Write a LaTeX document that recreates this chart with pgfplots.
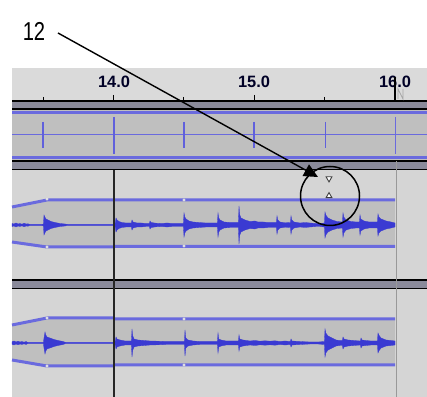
\documentclass[border=0pt]{standalone}
\usepackage{pgfplots}
\pgfplotsset{compat=1.18}
\usepackage{pgfplotstable}
\usepgfplotslibrary{fillbetween}
\usetikzlibrary{arrows.meta}
\usepackage{fontspec}
\setmainfont{Liberation Sans}
\definecolor{bgl}{HTML}{D5D5D5}
\definecolor{bgin}{HTML}{BFBFBF}
\definecolor{ruler}{HTML}{DADADA}
\definecolor{sep}{HTML}{8A8A9A}
\definecolor{envb}{HTML}{6A6ADE}
\definecolor{wave}{HTML}{3A3AD2}

% waveform amplitudes (pixels), track 2 (centre y=225)
\pgfplotstableread{
x a
12 1.5
14 1
16 2
18 1
20 1.5
22 0.8
24 1.8
26 1
28 1.2
30 0.4
42 0.4
43.4 1
44 10
44.8 8
46 6
48 5
51 3.5
55 2.5
60 1.5
65 1
68 0.4
113 0.4
}\wavetwoL
\pgfplotstableread{
x a
115 0.5
116 7
117 5
119 3.5
122 2.5
126 2
129 2
131.4 2
132 5
133 3
137 2
141 2
146 1.5
149.4 1.5
150 4
151 2.5
156 1.8
162 1.5
167 2
172 1.5
178 1.5
183.4 1.5
184 12
184.8 8
186 6
189 4
193 3
199 2.5
206 2
212 2
217.4 2
218 12
218.8 7
220 5
224 3
230 2.5
235 2.5
238.4 2.5
239 19
239.8 10
241 7
245 5
250 3.5
255 4
258 3
263 3
268 2.5
272 2.5
276.4 2.5
277 9
277.8 5
280 3
285 2.2
290.4 2.5
291 9
291.8 5
294 3
300 2
305 2.5
310 2
316 1.5
320 1.5
324.4 2
325 13
325.8 10
328 7
332 5
337 3.5
342.4 3
343 12
343.8 8
346 5
351 3.5
356 3
359.4 3
360 10
360.8 6
364 4
369 3
374 3
377.4 3
378 11
378.8 8
381 6
386 4
391 3
395 2
}\wavetwoR
% track 3 (centre y=343)
\pgfplotstableread{
x a
12 1.2
14 2
16 1
18 1.8
20 1
22 1.5
24 0.8
26 1.5
28 0.4
43.4 0.4
44 5
45 11
45.8 8
47 6
50 5
54 3.5
58 2.5
63 1.5
66 0.4
113 0.4
}\wavethreeL
\pgfplotstableread{
x a
115 0.5
116 6
117 4
120 3
125 2
131.4 2
132 14
132.8 7
134 4
138 3
144 2.5
150 2
158 1.8
166 1.5
174 1.5
180 1.5
184.4 1.5
185 13
185.8 5
188 3
193 2
200 1.5
208 1.5
217.4 1.5
218 10
218.8 4
221 3
226 2
232 2
238.4 2
239 8
239.8 4
243 3
250 2
255 2.5
260 1.8
265 2.2
270 1.8
275 2.2
280 1.5
285 2
290.4 1.5
291 4
292 2
300 1.5
310 1
318 1
324.4 1.5
325 14
325.8 10
328 7
332 5
336 3
340 2.5
342.4 2.5
343 6
344 4
348 3
354 2.5
360.4 2
361 5
362 3
366 2.5
371 2
377.4 2
378 10
378.8 8
381 5
386 3
391 2.5
395 2
}\wavethreeR

\newcommand{\wave}[2]{% table, centre
  \addplot[draw=none, name path=u, forget plot] table[x=x, y expr=#2-\thisrow{a}] {#1};
  \addplot[draw=none, name path=l, forget plot] table[x=x, y expr=#2+\thisrow{a}] {#1};
  \addplot[fill=wave, draw=wave, line width=0.3bp] fill between[of=u and l];
}

\begin{document}
\begin{tikzpicture}
\begin{axis}[
  width=427bp, height=397bp, scale only axis,
  xmin=0, xmax=427, ymin=0, ymax=397, y dir=reverse,
  hide axis, clip=true, unbounded coords=jump,
  fill between/on layer=main,
]
% backgrounds
\addplot[fill=ruler, draw=none] coordinates {(12,68) (427,68) (427,101) (12,101)} -- cycle;
\addplot[fill=sep, draw=none] coordinates {(12,101) (427,101) (427,110) (12,110)} -- cycle;
\addplot[fill=bgin, draw=none] coordinates {(12,110) (427,110) (427,161) (12,161)} -- cycle;
\addplot[fill=sep, draw=none] coordinates {(12,161) (427,161) (427,170) (12,170)} -- cycle;
\addplot[fill=bgl, draw=none] coordinates {(12,170) (427,170) (427,280) (12,280)} -- cycle;
\addplot[fill=sep, draw=none] coordinates {(12,280) (427,280) (427,289) (12,289)} -- cycle;
\addplot[fill=bgl, draw=none] coordinates {(12,289) (427,289) (427,397) (12,397)} -- cycle;
% black separator lines
\addplot[black, line width=1.2bp] coordinates {(12,101) (427,101)};
\addplot[black, line width=2bp] coordinates {(12,109.5) (427,109.5)};
\addplot[black, line width=2bp] coordinates {(12,161.5) (427,161.5)};
\addplot[black, line width=1.5bp] coordinates {(12,169.5) (427,169.5)};
\addplot[black, line width=1.5bp] coordinates {(12,280) (427,280)};
\addplot[black, line width=1.5bp] coordinates {(12,288.5) (427,288.5)};
% ruler ticks
\addplot[black, line width=1bp] coordinates {(113,95) (113,100) (nan,nan) (254,95) (254,100) (nan,nan) (395,95) (395,100)};
\addplot[black, line width=0.8bp] coordinates {(43,97) (43,100) (nan,nan) (183,97) (183,100) (nan,nan) (324,97) (324,100)};
\node[font=\fontsize{16.5}{16}\selectfont\bfseries, text=black!85!blue] at (axis cs:114,82) {14.0};
\node[font=\fontsize{16.5}{16}\selectfont\bfseries, text=black!85!blue] at (axis cs:254,82) {15.0};
\node[font=\fontsize{16.5}{16}\selectfont\bfseries, text=black!85!blue] at (axis cs:395,82) {16.0};
\addplot[black, line width=1.3bp] coordinates {(395,77) (395,100)};
\addplot[gray!70, line width=0.7bp] coordinates {(398,99) (398,89) (403,99) (403,89)};
% track 1 (clicks)
\addplot[envb, line width=3bp] coordinates {(12,112.5) (427,112.5)};
\addplot[envb, line width=3bp] coordinates {(12,158) (427,158)};
\addplot[envb, line width=1bp] coordinates {(12,135) (427,135)};
\addplot[envb!80!wave, line width=1.6bp] coordinates {(43,122) (43,148) (nan,nan) (184,122) (184,148) (nan,nan) (254,122) (254,148)};
\addplot[envb!80!wave, line width=2.6bp] coordinates {(114,117) (114,154)};
\addplot[envb!80!wave, line width=1bp] coordinates {(325,122) (325,148)};
\addplot[envb, line width=1bp] coordinates {(395,117) (395,154)};
% track 2 envelope
\addplot[fill=bgin, draw=none] coordinates {(12,207) (47,200) (113,200) (113,247) (47,247) (12,242)} -- cycle;
\addplot[fill=bgin, draw=none] coordinates {(115,200) (395,200) (395,246.5) (115,246.5)} -- cycle;
\addplot[envb, line width=1bp] coordinates {(12,225) (113,225) (nan,nan) (115,225) (395,225)};
\wave{\wavetwoL}{225}
\wave{\wavetwoR}{225}
\addplot[envb, line width=3bp] coordinates {(12,207) (47,200) (113,200) (nan,nan) (115,200) (395,200)};
\addplot[envb, line width=3bp] coordinates {(12,242) (47,247) (113,247) (nan,nan) (115,246.5) (395,246.5)};
\addplot[only marks, mark=*, mark size=1.4bp, mark options={fill=white, draw=gray!40}] coordinates {(47,199) (47,247) (184,200) (184,246)};
% track 3 envelope
\addplot[fill=bgin, draw=none] coordinates {(12,325) (47,318) (113,318) (113,366) (47,366) (12,360)} -- cycle;
\addplot[fill=bgin, draw=none] coordinates {(115,319) (395,319) (395,365) (115,365)} -- cycle;
\addplot[envb, line width=1bp] coordinates {(12,343) (113,343) (nan,nan) (115,343) (395,343)};
\wave{\wavethreeL}{343}
\wave{\wavethreeR}{343}
\addplot[envb, line width=3bp] coordinates {(12,325) (47,318) (113,318) (nan,nan) (115,319) (395,319)};
\addplot[envb, line width=3bp] coordinates {(12,360) (47,366) (113,366) (nan,nan) (115,365) (395,365)};
\addplot[only marks, mark=*, mark size=1.4bp, mark options={fill=white, draw=gray!40}] coordinates {(47,318) (47,366) (184,319) (184,365)};
% cursors
\addplot[black!85, line width=2.4bp] coordinates {(114,170) (114,397)};
\addplot[gray!80, line width=1.2bp] coordinates {(396.5,161) (396.5,397)};
% small triangles
\addplot[only marks, mark=triangle*, mark size=3.4bp, mark options={rotate=180, fill=white, draw=black!75, line width=0.9bp}] coordinates {(329,178.5)};
\addplot[only marks, mark=triangle*, mark size=3.4bp, mark options={fill=white, draw=black!75, line width=0.9bp}] coordinates {(329,196)};
% annotation
\draw[black, line width=1.5bp] (axis cs:330,196) circle [radius=29.5bp];
\draw[black, line width=1.4bp, -{Triangle[length=14bp, width=13bp]}] (axis cs:58,33) -- (axis cs:318,177);
\node[font=\fontsize{26}{26}\selectfont, anchor=center] at (axis cs:34,31) {\scalebox{0.78}[1]{12}};
\end{axis}
\end{tikzpicture}
\end{document}
